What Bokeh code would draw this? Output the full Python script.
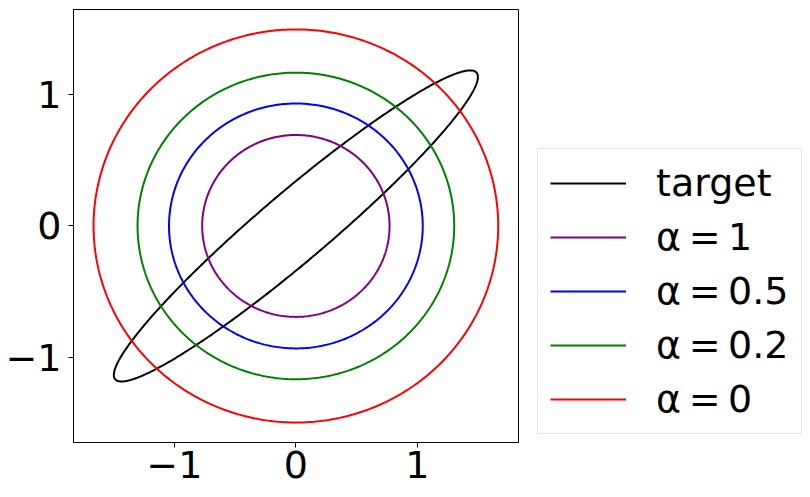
import numpy as np
from bokeh.plotting import figure
from bokeh.layouts import row
from bokeh.models import Range1d, FixedTicker, Legend, LegendItem
from bokeh.embed import file_html
from bokeh.resources import INLINE

# ---- data ----
labels = ["target", "\u03b1\u2009=\u20091", "\u03b1\u2009=\u20090.5", "\u03b1\u2009=\u20090.2", "\u03b1\u2009=\u20090"]
colors = ["black", "purple", "blue", "green", "red"]
# contour parameters: x = px*cos t ; y = qy*cos t + ry*sin t
px_vals = [1.498, 0.771, 1.044, 1.303, 1.665]
qy_vals = [1.130, 0.0, 0.0, 0.0, 0.0]
ry_vals = [0.340, 0.690, 0.929, 1.163, 1.491]
tick_vals = [-1, 0, 1]
tick_labels = ["\u22121", "0", "1"]

FONT = "DejaVu Sans"

p = figure(width=520, height=497, output_backend="svg", toolbar_location=None,
           x_range=Range1d(-1.83, 1.832), y_range=Range1d(-1.643, 1.642),
           min_border_left=73, min_border_top=9, min_border_right=2,
           min_border_bottom=55)
p.grid.visible = False
p.outline_line_color = "black"
p.outline_line_width = 1
p.background_fill_color = "white"
p.border_fill_color = "white"

# legend lives in a companion figure to the right (its view is empty)
q_fig = figure(width=290, height=497, output_backend="svg", toolbar_location=None,
               x_range=Range1d(10, 11), y_range=Range1d(10, 11),
               x_axis_location=None, y_axis_location=None, min_border=0)
q_fig.grid.visible = False
q_fig.outline_line_color = None
q_fig.background_fill_color = "white"
q_fig.border_fill_color = "white"

t = np.linspace(0, 2 * np.pi, 400)
leg_renderers = []
for col, a, q, r in zip(colors, px_vals, qy_vals, ry_vals):
    xs = a * np.cos(t)
    ys = q * np.cos(t) + r * np.sin(t)
    p.line(xs, ys, line_color=col, line_width=2)
    leg_renderers.append(q_fig.line(xs, ys, line_color=col, line_width=2))

for ax in (p.xaxis[0], p.yaxis[0]):
    ax.ticker = FixedTicker(ticks=tick_vals)
    ax.major_label_overrides = {v: s for v, s in zip(tick_vals, tick_labels)}
    ax.minor_tick_line_color = None
    ax.major_tick_in = 0
    ax.major_tick_out = 5
    ax.major_tick_line_color = "black"
    ax.axis_line_color = "black"
    ax.major_label_text_font = FONT
    ax.major_label_text_font_size = "38px"
    ax.major_label_text_color = "black"
p.xaxis.major_label_standoff = 3
p.yaxis.major_label_standoff = 7

legend = Legend(items=[LegendItem(label=l, renderers=[r]) for l, r in zip(labels, leg_renderers)],
                location=(17, 8))
legend.label_text_font = FONT
legend.label_text_font_size = "38px"
legend.label_text_color = "black"
legend.glyph_width = 76
legend.glyph_height = 44
legend.label_height = 44
legend.label_standoff = 30
legend.spacing = 10
legend.padding = 12
legend.margin = 0
legend.border_line_color = "#cccccc"
legend.border_line_width = 1
legend.background_fill_color = "white"
legend.background_fill_alpha = 0.8
q_fig.add_layout(legend, "center")

layout = row(p, q_fig)
open("out.html", "w").write(file_html(layout, INLINE))
